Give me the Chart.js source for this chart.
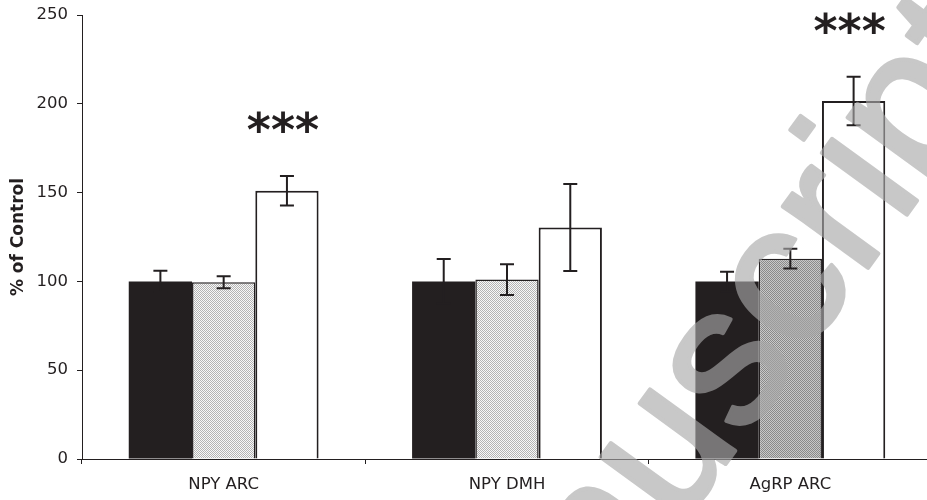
<!DOCTYPE html>
<html>
<head>
<meta charset="utf-8">
<script src="https://cdn.jsdelivr.net/npm/chart.js@4"></script>
<style>
  html, body { margin: 0; padding: 0; background: #fff; overflow: hidden; }
  #wrap { width: 935px; height: 500px; position: relative; }
</style>
</head>
<body>
<div id="wrap"><canvas id="chart"></canvas></div>
<script>
// data
const categories = ["NPY ARC", "NPY DMH", "AgRP ARC"];
const seriesA = [100, 100, 100];      // black bars
const seriesAErr = [6, 12.6, 5.5];
const seriesB = [99.5, 101, 112.8];   // hatched grey bars
const seriesBErr = [3.4, 8.6, 5.6];
const seriesC = [151, 130.3, 201.6];  // white bars
const seriesCErr = [8.3, 24.5, 13.7];
const sigMarks = ["***", "", "***"];  // over the white bars
const yTicks = [0, 50, 100, 150, 200, 250];

const INK = "#231f20";

// small checker patterns for the grey bars
function checker(dark, light) {
  const c = document.createElement("canvas");
  c.width = 2; c.height = 2;
  const g = c.getContext("2d");
  g.fillStyle = light; g.fillRect(0, 0, 2, 2);
  g.fillStyle = dark; g.fillRect(0, 0, 1, 1); g.fillRect(1, 1, 1, 1);
  return g.createPattern(c, "repeat");
}

const ctx = document.getElementById("chart").getContext("2d");
const lightHatch = checker("#b4b4b4", "#f8f8f8");
const darkHatch = checker("#8a8a8a", "#c8c8c8");

const errors = [seriesAErr, seriesBErr, seriesCErr];

// error bars drawn through the y scale
const errorBars = {
  id: "errorBars",
  afterDatasetsDraw(chart) {
    const c = chart.ctx;
    const y = chart.scales.y;
    c.save();
    c.strokeStyle = INK;
    c.lineWidth = 2;
    chart.data.datasets.forEach((ds, i) => {
      chart.getDatasetMeta(i).data.forEach((bar, j) => {
        const v = ds.data[j], e = errors[i][j];
        const top = y.getPixelForValue(v + e);
        const bot = y.getPixelForValue(v - e);
        c.beginPath();
        c.moveTo(bar.x, top); c.lineTo(bar.x, bot);
        c.moveTo(bar.x - 7, top); c.lineTo(bar.x + 7, top);
        c.moveTo(bar.x - 7, bot); c.lineTo(bar.x + 7, bot);
        c.stroke();
      });
    });
    c.restore();
  }
};

// significance stars above the white bars
const stars = {
  id: "stars",
  afterDatasetsDraw(chart) {
    const c = chart.ctx;
    const y = chart.scales.y;
    const meta = chart.getDatasetMeta(2);
    c.save();
    c.fillStyle = INK;
    c.font = 'bold 46px "DejaVu Sans"';
    c.textAlign = "center";
    c.textBaseline = "middle";
    sigMarks.forEach((m, j) => {
      if (!m) return;
      const top = y.getPixelForValue(seriesC[j] + seriesCErr[j]);
      c.fillText(m, meta.data[j].x - 4, top - 42);
    });
    c.restore();
  }
};

// the grey "Author Manuscript" stamp that lies over the figure
const stamp = {
  id: "stamp",
  afterDraw(chart) {
    const c = chart.ctx;
    const off = document.createElement("canvas");
    off.width = chart.width; off.height = chart.height;
    const g = off.getContext("2d");
    g.font = '199px "Liberation Sans"';
    const pre = g.measureText("Author Manu").width;
    g.translate(743, 440);
    g.rotate(-54 * Math.PI / 180);
    g.fillStyle = "#a8a8a8";
    g.strokeStyle = "#a8a8a8";
    g.lineWidth = 4;
    g.lineJoin = "round";
    g.fillText("Author Manuscript", -pre, 0);
    g.strokeText("Author Manuscript", -pre, 0);
    c.save();
    c.globalAlpha = 0.63;
    c.drawImage(off, 0, 0);
    c.restore();
  }
};

new Chart(ctx, {
  type: "bar",
  data: {
    labels: categories,
    datasets: [
      {
        data: seriesA,
        backgroundColor: INK,
        borderColor: INK,
        borderWidth: 0,
      },
      {
        data: seriesB,
        backgroundColor: [lightHatch, lightHatch, darkHatch],
        borderColor: INK,
        borderWidth: 1.5,
      },
      {
        data: seriesC,
        backgroundColor: "#ffffff",
        borderColor: INK,
        borderWidth: 2,
      },
    ],
  },
  options: {
    responsive: true,
    maintainAspectRatio: false,
    animation: false,
    layout: { padding: { top: 15, right: 3, bottom: 0, left: 0 } },
    datasets: { bar: { barPercentage: 1, categoryPercentage: 0.67, borderSkipped: "start" } },
    plugins: { legend: { display: false }, tooltip: { enabled: false } },
    scales: {
      x: {
        afterFit: (s) => { s.height = 41; s.paddingLeft = 0; s.paddingRight = 0; },
        grid: { offset: true, drawOnChartArea: false, drawTicks: true, tickLength: 5, color: INK },
        border: { display: true, color: INK, width: 1 },
        ticks: { color: INK, padding: 11, font: { family: "DejaVu Sans", size: 16.5 } },
      },
      y: {
        min: 0,
        max: 250,
        afterFit: (s) => { s.width = 82; s.paddingTop = 0; s.paddingBottom = 0; },
        afterBuildTicks: (s) => { s.ticks = yTicks.map((v) => ({ value: v })); },
        grid: { drawOnChartArea: false, drawTicks: true, tickLength: 5, color: INK },
        border: { display: true, color: INK, width: 1 },
        ticks: { color: INK, padding: 9, font: { family: "DejaVu Sans", size: 16.5 } },
        title: {
          display: true,
          text: "% of Control",
          color: INK,
          padding: { top: 8, bottom: 0 },
          font: { family: "DejaVu Sans", size: 17, weight: "bold" },
        },
      },
    },
  },
  plugins: [errorBars, stars, stamp],
});
</script>
</body>
</html>
